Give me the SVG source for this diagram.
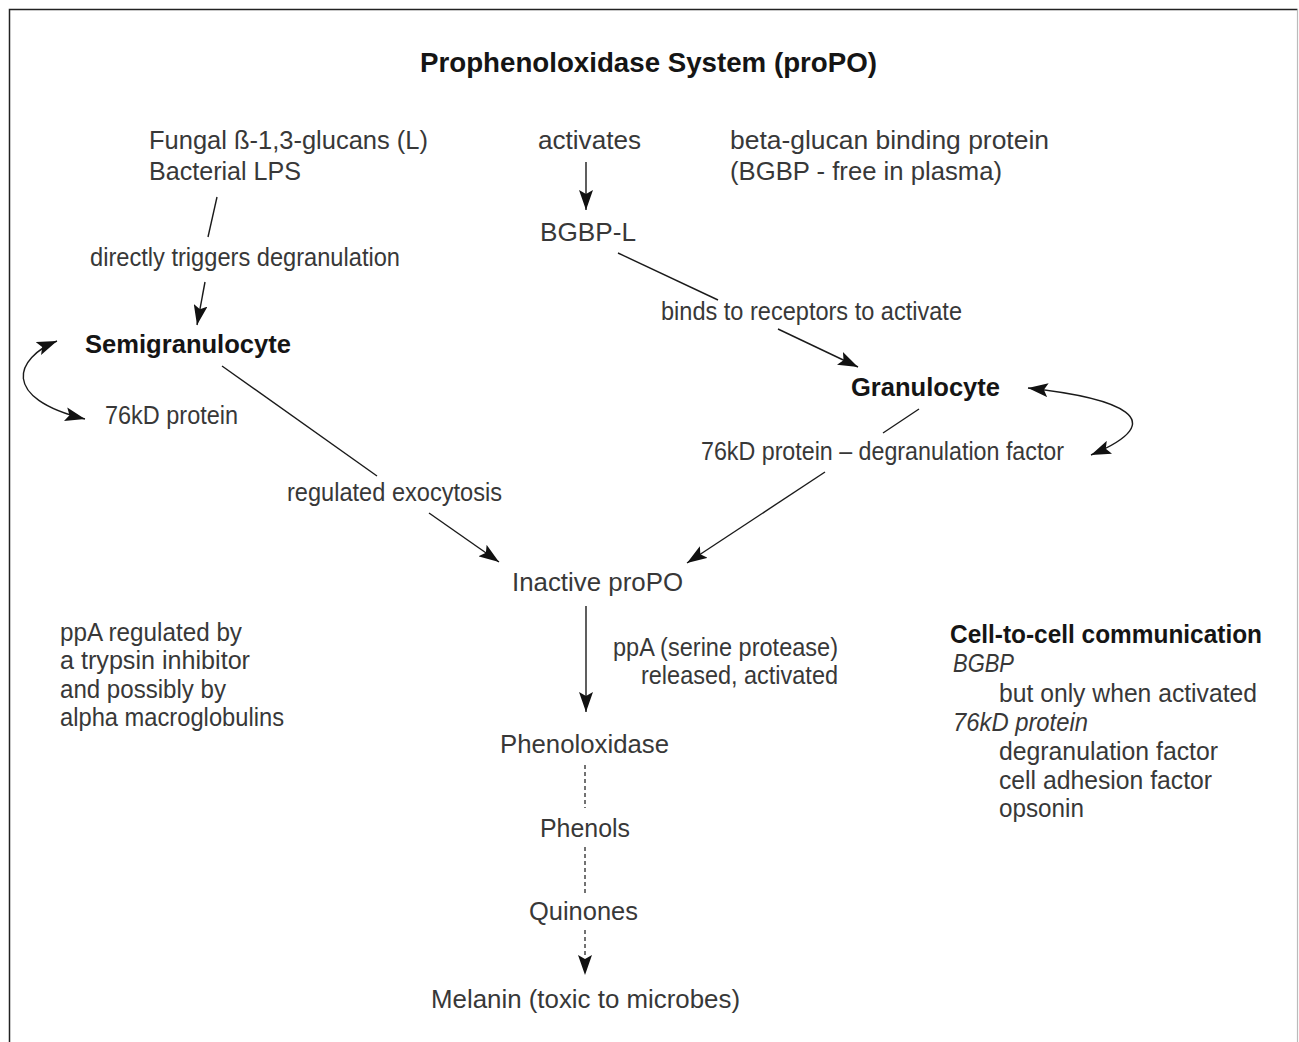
<svg xmlns="http://www.w3.org/2000/svg" width="1299" height="1042" viewBox="0 0 1299 1042">
<style>
  text { font-family: "Liberation Sans", Arial, Helvetica, sans-serif; font-size: 25px; fill: #383838; }
  .b { font-weight: bold; fill: #151515; }
  .t { font-weight: bold; font-size: 28px; fill: #151515; }
  .i { font-style: italic; }
  .ln { stroke: #1a1a1a; stroke-width: 1.4; fill: none; }
  .ar { marker-end: url(#ah); }
  .dash { stroke: #444; stroke-width: 1.5; stroke-dasharray: 4 3; fill: none; }
</style>
<defs>
  <marker id="ah" viewBox="0 0 20 14" refX="20" refY="7" markerWidth="20" markerHeight="14" markerUnits="userSpaceOnUse" orient="auto-start-reverse">
    <path d="M0,0 L20,7 L0,14 L4,7 z" fill="#111"/>
  </marker>
</defs>
<rect width="1299" height="1042" fill="#fff"/>
<g id="frame">
  <path d="M9.5,1042 V9.5 H1297.5" fill="none" stroke="#222" stroke-width="1.5"/>
  <path d="M1297.5,9.5 V1042" fill="none" stroke="#bbb" stroke-width="1.2"/>
</g>
<g id="title"><text class="t" x="420" y="72" textLength="457" lengthAdjust="spacingAndGlyphs">Prophenoloxidase System (proPO)</text></g>

<g id="connectors">
  <line class="ln" x1="217" y1="197" x2="208" y2="237"/>
  <line class="ln ar" x1="205" y1="282" x2="197" y2="325"/>
  <line class="ln ar" x1="586" y1="162" x2="586" y2="210"/>
  <line class="ln" x1="618" y1="253" x2="718" y2="300"/>
  <line class="ln ar" x1="778" y1="329" x2="858" y2="367"/>
  <line class="ln" x1="222" y1="366" x2="377" y2="476"/>
  <line class="ln ar" x1="429" y1="513" x2="499" y2="562"/>
  <line class="ln" x1="919" y1="409" x2="883" y2="433"/>
  <line class="ln ar" x1="825" y1="472" x2="687" y2="563"/>
  <line class="ln ar" x1="586" y1="606" x2="586" y2="712"/>
  <line class="dash" x1="585" y1="765" x2="585" y2="808"/>
  <line class="dash" x1="585" y1="847" x2="585" y2="893"/>
  <line class="dash" x1="585" y1="930" x2="585" y2="955"/>
  <line class="ln ar" x1="585" y1="955" x2="585" y2="975" stroke-opacity="0"/>
  <path class="ln ar" style="marker-start:url(#ah)" d="M57,341 C15,358 0,398 85,419"/>
  <path class="ln ar" style="marker-start:url(#ah)" d="M1028,388 C1120,398 1175,420 1091,455"/>
</g>

<g id="edge-labels">
  <text x="90" y="266" textLength="310" lengthAdjust="spacingAndGlyphs">directly triggers degranulation</text>
  <text x="661" y="320" textLength="301" lengthAdjust="spacingAndGlyphs">binds to receptors to activate</text>
  <text x="287" y="501" textLength="215" lengthAdjust="spacingAndGlyphs">regulated exocytosis</text>
  <text x="701" y="460" textLength="363" lengthAdjust="spacingAndGlyphs">76kD protein – degranulation factor</text>
  <text x="613" y="656" textLength="225" lengthAdjust="spacingAndGlyphs">ppA (serine protease)</text>
  <text x="641" y="684" textLength="197" lengthAdjust="spacingAndGlyphs">released, activated</text>
</g>

<g id="node-ligands">
  <text x="149" y="149" textLength="279" lengthAdjust="spacingAndGlyphs">Fungal ß-1,3-glucans (L)</text>
  <text x="149" y="180" textLength="152" lengthAdjust="spacingAndGlyphs">Bacterial LPS</text>
</g>
<g id="node-activates"><text x="538" y="149" textLength="103" lengthAdjust="spacingAndGlyphs">activates</text></g>
<g id="node-bgbp">
  <text x="730" y="149" textLength="319" lengthAdjust="spacingAndGlyphs">beta-glucan binding protein</text>
  <text x="730" y="180" textLength="272" lengthAdjust="spacingAndGlyphs">(BGBP - free in plasma)</text>
</g>
<g id="node-bgbpl"><text x="540" y="241" textLength="96" lengthAdjust="spacingAndGlyphs">BGBP-L</text></g>
<g id="node-semigranulocyte"><text class="b" x="85" y="353" textLength="206" lengthAdjust="spacingAndGlyphs">Semigranulocyte</text></g>
<g id="node-76kd-left"><text x="105" y="424" textLength="133" lengthAdjust="spacingAndGlyphs">76kD protein</text></g>
<g id="node-granulocyte"><text class="b" x="851" y="396" textLength="149" lengthAdjust="spacingAndGlyphs">Granulocyte</text></g>
<g id="node-inactive"><text x="512" y="591" textLength="171" lengthAdjust="spacingAndGlyphs">Inactive proPO</text></g>
<g id="node-phenoloxidase"><text x="500" y="753" textLength="169" lengthAdjust="spacingAndGlyphs">Phenoloxidase</text></g>
<g id="node-phenols"><text x="540" y="837" textLength="90" lengthAdjust="spacingAndGlyphs">Phenols</text></g>
<g id="node-quinones"><text x="529" y="920" textLength="109" lengthAdjust="spacingAndGlyphs">Quinones</text></g>
<g id="node-melanin"><text x="431" y="1008" textLength="309" lengthAdjust="spacingAndGlyphs">Melanin (toxic to microbes)</text></g>

<g id="note-left">
  <text x="60" y="641" textLength="182" lengthAdjust="spacingAndGlyphs">ppA regulated by</text>
  <text x="60" y="669" textLength="190" lengthAdjust="spacingAndGlyphs">a trypsin inhibitor</text>
  <text x="60" y="698" textLength="166" lengthAdjust="spacingAndGlyphs">and possibly by</text>
  <text x="60" y="726" textLength="224" lengthAdjust="spacingAndGlyphs">alpha macroglobulins</text>
</g>
<g id="note-right">
  <text class="b" x="950" y="643" textLength="312" lengthAdjust="spacingAndGlyphs">Cell-to-cell communication</text>
  <text class="i" x="953" y="672" textLength="61" lengthAdjust="spacingAndGlyphs">BGBP</text>
  <text x="999" y="702" textLength="258" lengthAdjust="spacingAndGlyphs">but only when activated</text>
  <text class="i" x="953" y="731" textLength="135" lengthAdjust="spacingAndGlyphs">76kD protein</text>
  <text x="999" y="760" textLength="219" lengthAdjust="spacingAndGlyphs">degranulation factor</text>
  <text x="999" y="789" textLength="213" lengthAdjust="spacingAndGlyphs">cell adhesion factor</text>
  <text x="999" y="817" textLength="85" lengthAdjust="spacingAndGlyphs">opsonin</text>
</g>
</svg>
